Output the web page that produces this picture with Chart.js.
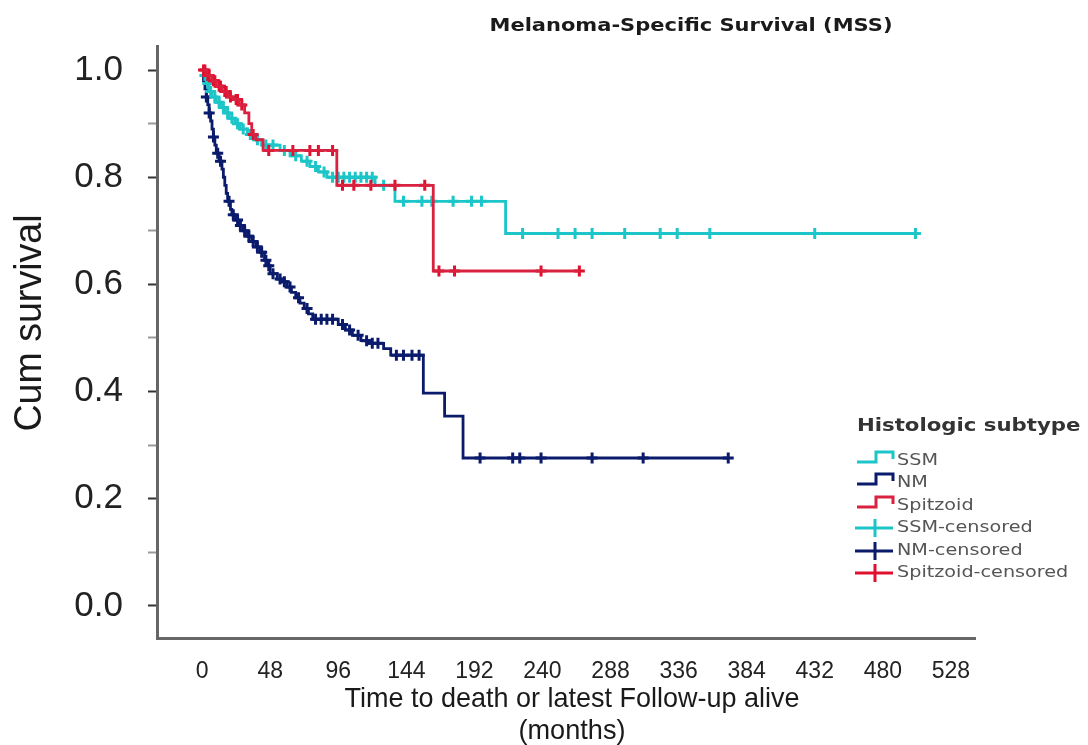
<!DOCTYPE html>
<html>
<head>
<meta charset="utf-8">
<script src="https://cdn.jsdelivr.net/npm/chart.js@4.4.1/dist/chart.umd.min.js"></script>
<style>
  body { margin: 0; background: #fff; }
  canvas { display: block; }
</style>
</head>
<body>
<canvas id="kmChart" width="1088" height="745"></canvas>
<script>
// Kaplan-Meier steps: event time (months) and survival after it
const ssmTimes = [0, 1, 3, 5, 7, 10, 13, 16, 19, 23, 27, 32, 37, 42, 55, 62, 70, 76, 82, 88, 122, 136, 214]
const ssmSurv = [1.0, 0.99, 0.975, 0.96, 0.95, 0.94, 0.93, 0.92, 0.91, 0.90, 0.89, 0.88, 0.87, 0.86, 0.85, 0.84, 0.83, 0.82, 0.81, 0.80, 0.785, 0.755, 0.695]
const ssmCensored = [2, 4, 6, 9, 12, 15, 18, 21, 25, 29, 34, 39, 45, 50, 58, 66, 74, 80, 86, 92, 96, 100, 104, 108, 112, 116, 120, 128, 142, 155, 162, 177, 190, 197, 226, 251, 263, 275, 298, 323, 335, 358, 432, 503]

const nmTimes = [0, 1, 2, 3, 4, 5, 6, 7, 8, 9, 10, 12, 14, 15, 16, 17, 18, 20, 21, 23, 26, 29, 32, 35, 38, 41, 44, 46, 48, 53, 57, 60, 63, 66, 69, 72, 75, 78, 96, 101, 106, 112, 118, 128, 133, 156, 171, 184]
const nmSurv = [1.0, 0.98, 0.965, 0.95, 0.935, 0.92, 0.905, 0.89, 0.875, 0.86, 0.845, 0.83, 0.815, 0.80, 0.785, 0.77, 0.755, 0.74, 0.73, 0.72, 0.71, 0.70, 0.69, 0.68, 0.67, 0.66, 0.645, 0.635, 0.62, 0.61, 0.605, 0.595, 0.585, 0.575, 0.565, 0.555, 0.545, 0.535, 0.525, 0.515, 0.505, 0.495, 0.49, 0.48, 0.468, 0.397, 0.354, 0.276]
const nmCensored = [3, 5, 8, 11, 13, 19, 22, 25, 27, 30, 33, 36, 39, 42, 45, 47, 50, 55, 58, 62, 68, 74, 80, 84, 88, 92, 99, 104, 110, 116, 120, 124, 137, 142, 148, 153, 196, 219, 224, 239, 275, 311, 371]

const spitzTimes = [0, 3, 7, 10, 14, 18, 22, 26, 30, 33, 35, 38, 43, 95, 163]
const spitzSurv = [1.0, 0.99, 0.98, 0.97, 0.96, 0.95, 0.945, 0.935, 0.92, 0.90, 0.88, 0.87, 0.85, 0.785, 0.625]
const spitzCensored = [1, 2, 4, 5, 8, 9, 12, 13, 16, 17, 20, 24, 25, 28, 36, 47, 64, 76, 82, 92, 99, 107, 119, 136, 157, 167, 178, 239, 266]

const xTicks = [0, 48, 96, 144, 192, 240, 288, 336, 384, 432, 480, 528]
const yMajorTicks = [0.0, 0.2, 0.4, 0.6, 0.8, 1.0]
const yMinorTicks = [0.1, 0.3, 0.5, 0.7, 0.9]

const legendLabels = ['SSM', 'NM', 'Spitzoid', 'SSM-censored', 'NM-censored', 'Spitzoid-censored']

const cyan = '#1cc6c8'
const navy = '#0b1b6c'
const red = '#d8223f'
const redMark = '#e0112f'

function survAt(times, surv, t) {
    let s = 1
    for (let i = 0; i < times.length; i++) {
        if (times[i] <= t) s = surv[i]
    }
    return s
}

function curve(times, surv, censored) {
    const pts = times.map((t, i) => ({ x: t, y: surv[i] }))
    pts.push({ x: Math.max(...censored), y: surv[surv.length - 1] })
    return pts
}

function marks(times, surv, censored) {
    return censored.map(t => ({ x: t, y: survAt(times, surv, t) }))
}

function lineSet(label, data, color) {
    return { label, data, borderColor: color, backgroundColor: color, borderWidth: 2.8,
        stepped: 'before', pointRadius: 0, showLine: true, tension: 0 }
}

function markSet(label, data, color) {
    return { label, data, borderColor: color, backgroundColor: color, borderWidth: 3,
        pointStyle: 'cross', pointRadius: 5.5, showLine: false }
}

// text squeezed or stretched to a target width, centred
function fitText(ctx, text, cx, cy, font, width, color, rotate) {
    ctx.save()
    ctx.font = font
    ctx.fillStyle = color
    ctx.textAlign = 'center'
    ctx.textBaseline = 'middle'
    const sx = width / ctx.measureText(text).width
    ctx.translate(cx, cy)
    if (rotate) ctx.rotate(-Math.PI / 2)
    ctx.scale(sx, 1)
    ctx.fillText(text, 0, 0)
    ctx.restore()
}

// left aligned text with a horizontal stretch
function wideText(ctx, text, x, y, font, sx, color) {
    ctx.save()
    ctx.font = font
    ctx.fillStyle = color
    ctx.textAlign = 'left'
    ctx.textBaseline = 'middle'
    ctx.translate(x, y)
    ctx.scale(sx, 1)
    ctx.fillText(text, 0, 0)
    ctx.restore()
}

const decorations = {
    id: 'decorations',
    afterDraw(chart) {
        const ctx = chart.ctx
        fitText(ctx, 'Melanoma-Specific Survival (MSS)', 691, 27, 'bold 17px "DejaVu Sans"', 403, '#1a1a1a')
        fitText(ctx, 'Time to death or latest Follow-up alive', 572, 699, '28px "Liberation Sans"', 455, '#1a1a1a')
        fitText(ctx, '(months)', 572, 731, '28px "Liberation Sans"', 107, '#1a1a1a')
        fitText(ctx, 'Cum survival', 31, 323, '38px "Liberation Sans"', 217, '#1a1a1a', true)

        // legend
        wideText(ctx, 'Histologic subtype', 857, 427, 'bold 17px "DejaVu Sans"', 1.25, '#333')
        const colors = [cyan, navy, red, cyan, navy, redMark]
        const rows = [461, 483, 506, 528, 551, 573]
        ctx.save()
        ctx.lineWidth = 3
        legendLabels.forEach((lab, i) => {
            const y = rows[i]
            ctx.strokeStyle = colors[i]
            ctx.beginPath()
            if (i < 3) {
                ctx.moveTo(857, y + 1)
                ctx.lineTo(876, y + 1)
                ctx.lineTo(876, y - 9)
                ctx.lineTo(893, y - 9)
                ctx.lineTo(893, y - 2)
            } else {
                ctx.moveTo(855, y)
                ctx.lineTo(893, y)
                ctx.moveTo(875, y - 9)
                ctx.lineTo(875, y + 9)
            }
            ctx.stroke()
            wideText(ctx, lab, 897, y, '15px "DejaVu Sans"', 1.28, '#555')
        })
        ctx.restore()
    }
}

new Chart(document.getElementById('kmChart'), {
    type: 'line',
    data: {
        datasets: [
            lineSet('Spitzoid', curve(spitzTimes, spitzSurv, spitzCensored), red),
            markSet('Spitzoid-censored', marks(spitzTimes, spitzSurv, spitzCensored), redMark),
            lineSet('SSM', curve(ssmTimes, ssmSurv, ssmCensored), cyan),
            markSet('SSM-censored', marks(ssmTimes, ssmSurv, ssmCensored), cyan),
            lineSet('NM', curve(nmTimes, nmSurv, nmCensored), navy),
            markSet('NM-censored', marks(nmTimes, nmSurv, nmCensored), navy)
        ]
    },
    options: {
        responsive: false,
        animation: false,
        devicePixelRatio: 1,
        layout: { padding: { left: 0, top: 45, right: 113, bottom: 0 } },
        plugins: { legend: { display: false }, tooltip: { enabled: false } },
        scales: {
            x: {
                type: 'linear',
                min: -31.8,
                max: 545,
                afterBuildTicks: scale => { scale.ticks = xTicks.map(v => ({ value: v })) },
                afterFit: scale => { scale.height = 107 },
                grid: { display: false },
                border: { display: true, color: '#666', width: 3 },
                ticks: { color: '#222', padding: 12, maxRotation: 0, autoSkip: false,
                    font: { family: 'Liberation Sans', size: 23 } }
            },
            y: {
                type: 'linear',
                min: -0.06,
                max: 1.045,
                afterBuildTicks: scale => {
                    scale.ticks = [...yMajorTicks, ...yMinorTicks].sort((a, b) => a - b).map(v => ({ value: v }))
                },
                afterFit: scale => { scale.width = 157 },
                grid: {
                    drawOnChartArea: false,
                    drawTicks: true,
                    tickLength: 9,
                    tickWidth: 2,
                    tickColor: c => yMajorTicks.includes(c.tick.value) ? '#333' : '#999'
                },
                border: { display: true, color: '#666', width: 3 },
                ticks: {
                    color: '#222',
                    padding: 25,
                    autoSkip: false,
                    font: { family: 'Liberation Sans', size: 35 },
                    callback: v => yMajorTicks.includes(v) ? v.toFixed(1) : ''
                }
            }
        }
    },
    plugins: [decorations]
})
</script>
</body>
</html>
